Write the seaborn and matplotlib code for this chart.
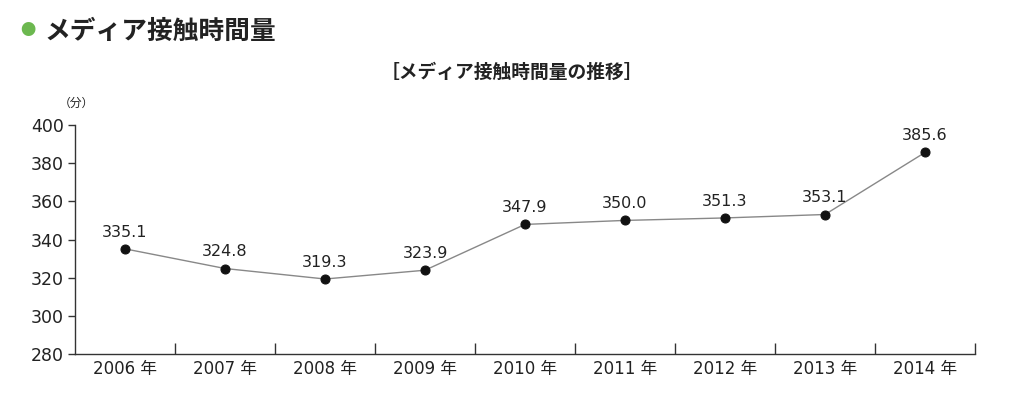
import matplotlib
matplotlib.use("Agg")
import matplotlib.pyplot as plt
import seaborn as sns
import pandas as pd
from matplotlib.ticker import FixedLocator

years = ["2006 年", "2007 年", "2008 年", "2009 年", "2010 年", "2011 年", "2012 年", "2013 年", "2014 年"]
minutes = [335.1, 324.8, 319.3, 323.9, 347.9, 350.0, 351.3, 353.1, 385.6]
yticks = [280, 300, 320, 340, 360, 380, 400]

sns.set_theme(style="white")
plt.rcParams['font.family'] = ['DejaVu Sans', 'Noto Sans CJK JP']
JP = ['Noto Sans CJK JP', 'DejaVu Sans']

df = pd.DataFrame({"year": years, "minutes": minutes})

fig = plt.figure(figsize=(10.24, 3.94), dpi=100)
ax = fig.add_axes([75/1024, 1-354/394, 900/1024, 229/394])

sns.lineplot(data=df, x="year", y="minutes", ax=ax, color="#888888", linewidth=1.0,
             marker="o", markersize=6.5, markerfacecolor="#111111", markeredgecolor="#111111",
             sort=False)

for i, v in enumerate(minutes):
    ax.annotate(f"{v:.1f}", (i, v), xytext=(0, 6.5), textcoords="offset points",
                ha="center", va="bottom", fontsize=11.5, color="#222222")

ax.set_xlim(-0.5, len(years) - 0.5)
ax.set_ylim(280, 400)
ax.set_yticks(yticks)
ax.set_xticks(range(len(years)))
ax.set_xticklabels(years, fontsize=12, color="#222222")
ax.set_yticklabels([str(t) for t in yticks], fontsize=12.5, color="#222222")
ax.xaxis.set_minor_locator(FixedLocator([i + 0.5 for i in range(len(years))]))
ax.tick_params(axis="x", which="major", length=0, pad=4)
ax.tick_params(axis="x", which="minor", direction="in", length=8, width=1, color="#333333", bottom=True)
ax.tick_params(axis="y", which="major", direction="out", length=5, width=1, color="#333333", left=True, pad=3)
ax.set_xlabel("")
ax.set_ylabel("")
for s in ["top", "right"]:
    ax.spines[s].set_visible(False)
for s in ["left", "bottom"]:
    ax.spines[s].set_color("#333333")
    ax.spines[s].set_linewidth(1.0)

fig.text(76/1024, 1-103/394, "（分）", fontsize=8.5, ha="center", va="center", color="#222222", family=JP)
fig.text(28/1024, 1-31/394, "●", fontsize=11, color="#6cb84f", ha="center", va="center", family=JP)
fig.text(44/1024, 1-31/394, "メディア接触時間量", fontsize=18.5, fontweight="bold", ha="left", va="center", color="#222222", family=JP)
fig.text(512/1024, 1-72/394, "［メディア接触時間量の推移］", fontsize=13.5, fontweight="bold", ha="center", va="center", color="#222222", family=JP)

fig.savefig("out.png", dpi=100, facecolor="white")
